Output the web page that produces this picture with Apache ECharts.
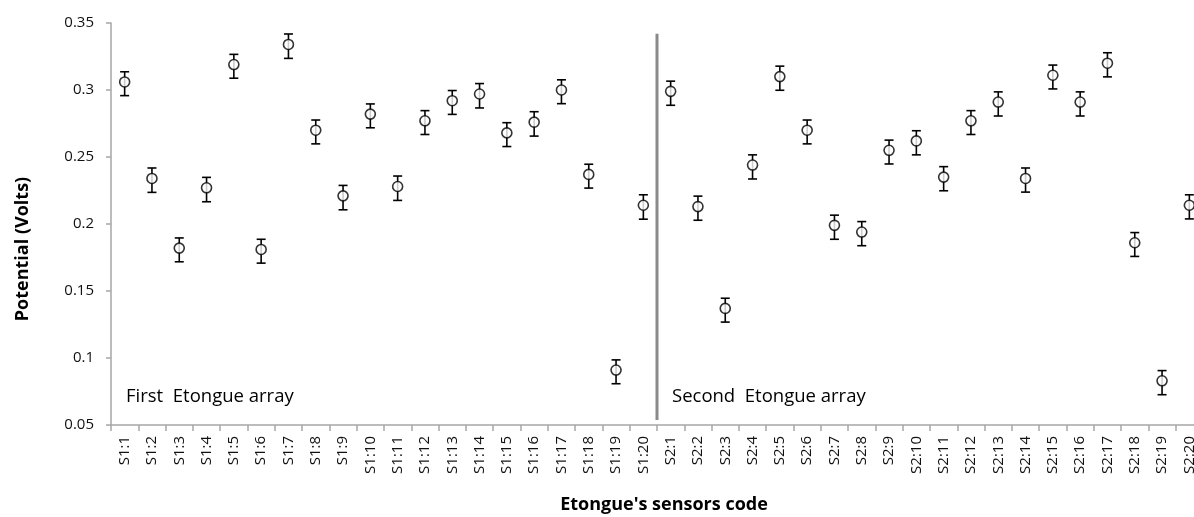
<!DOCTYPE html>
<html>
<head>
<meta charset="utf-8">
<script src="https://cdn.jsdelivr.net/npm/echarts@6/dist/echarts.min.js"></script>
<style>
  html, body { margin: 0; padding: 0; background: #fff; }
  #chart { width: 1194px; height: 517px; }
</style>
</head>
<body>
<div id="chart"></div>
<script>
const sensors = [
  'S1:1','S1:2','S1:3','S1:4','S1:5','S1:6','S1:7','S1:8','S1:9','S1:10',
  'S1:11','S1:12','S1:13','S1:14','S1:15','S1:16','S1:17','S1:18','S1:19','S1:20',
  'S2:1','S2:2','S2:3','S2:4','S2:5','S2:6','S2:7','S2:8','S2:9','S2:10',
  'S2:11','S2:12','S2:13','S2:14','S2:15','S2:16','S2:17','S2:18','S2:19','S2:20'
];

// potential
const potential = [
  0.306, 0.234, 0.182, 0.227, 0.319, 0.181, 0.334, 0.270, 0.221, 0.282,
  0.228, 0.277, 0.292, 0.297, 0.268, 0.276, 0.300, 0.237, 0.091, 0.214,
  0.299, 0.213, 0.137, 0.244, 0.310, 0.270, 0.199, 0.194, 0.255, 0.262,
  0.235, 0.277, 0.291, 0.234, 0.311, 0.291, 0.320, 0.186, 0.083, 0.214
];

// error bar extent above / below the marker
const errUp = [
  0.0076, 0.0078, 0.0076, 0.0078, 0.0076, 0.0076, 0.0078, 0.0076, 0.0078, 0.0076,
  0.0078, 0.0076, 0.0076, 0.0078, 0.0076, 0.0078, 0.0076, 0.0076, 0.0076, 0.0078,
  0.0076, 0.0078, 0.0076, 0.0076, 0.0078, 0.0076, 0.0076, 0.0078, 0.0076, 0.0076,
  0.0078, 0.0076, 0.0076, 0.0078, 0.0076, 0.0076, 0.0078, 0.0076, 0.0076, 0.0078
];
const errDown = [
  0.0102, 0.0104, 0.0102, 0.0104, 0.0102, 0.0102, 0.0104, 0.0102, 0.0104, 0.0102,
  0.0104, 0.0102, 0.0102, 0.0104, 0.0102, 0.0104, 0.0102, 0.0102, 0.0102, 0.0104,
  0.0104, 0.0102, 0.0102, 0.0104, 0.0102, 0.0102, 0.0104, 0.0102, 0.0102, 0.0104,
  0.0102, 0.0102, 0.0104, 0.0102, 0.0102, 0.0104, 0.0102, 0.0102, 0.0104, 0.0102
];

// divider between the two arrays, on a hidden 0..40 value axis
const dividerX = [20, 20];
const dividerY = [0.342, 0.0537];

const yTicks = { min: 0.05, max: 0.35, interval: 0.05 };

const font = 'Open Sans';
const axisGrey = '#a6a6a6';

const chart = echarts.init(document.getElementById('chart'));

const barData = potential.map((v, i) => [i, v, errUp[i], errDown[i]]);
const pointData = potential.map((v, i) => [i, v]);
const dividerData = dividerX.map((x, i) => [x, dividerY[i]]);

chart.setOption({
  animation: false,
  grid: {
    left: 111, top: 23, right: -9, bottom: 92,
    containLabel: false,
    outerBoundsMode: 'none'
  },
  xAxis: [{
    type: 'category',
    data: sensors,
    boundaryGap: true,
    axisLine: { lineStyle: { color: axisGrey, width: 1.5 } },
    axisTick: { show: true, length: 6, lineStyle: { color: axisGrey, width: 1.5 } },
    axisLabel: {
      rotate: 90, interval: 0, margin: 11,
      color: '#111', fontFamily: font, fontSize: 15
    },
    splitLine: { show: false },
    name: "Etongue's sensors code",
    nameLocation: 'middle',
    nameGap: 71,
    nameTextStyle: { color: '#000', fontFamily: font, fontSize: 18, fontWeight: 'bold', padding: [0, 0, 0, 14] }
  }, {
    type: 'value',
    min: 0, max: 40,
    show: false
  }],
  yAxis: {
    type: 'value',
    min: yTicks.min, max: yTicks.max, interval: yTicks.interval,
    axisLine: { show: true, lineStyle: { color: axisGrey, width: 1.5 } },
    axisTick: { show: true, length: 5, lineStyle: { color: axisGrey, width: 1.5 } },
    axisLabel: { color: '#111', fontFamily: font, fontSize: 15, margin: 17 },
    splitLine: { show: false }
  },
  graphic: [
    {
      type: 'text', x: 23, y: 249, rotation: Math.PI / 2,
      style: {
        text: 'Potential (Volts)', fill: '#000',
        font: 'bold 18px "Open Sans"', align: 'center', verticalAlign: 'middle'
      }
    },
    {
      type: 'text', x: 126, y: 397,
      style: { text: 'First  Etongue array', fill: '#000', font: '18.5px "Open Sans"', verticalAlign: 'middle' }
    },
    {
      type: 'text', x: 672, y: 397,
      style: { text: 'Second  Etongue array', fill: '#000', font: '18.5px "Open Sans"', verticalAlign: 'middle' }
    }
  ],
  series: [
    {
      type: 'line',
      xAxisIndex: 1,
      data: dividerData,
      symbol: 'none',
      lineStyle: { color: '#8a8a8a', width: 3 },
      z: 1
    },
    {
      type: 'custom',
      data: barData,
      z: 2,
      renderItem: function (params, api) {
        const i = api.value(0);
        const v = api.value(1);
        const top = api.coord([i, v + api.value(2)]);
        const bot = api.coord([i, v - api.value(3)]);
        const half = 4.5;
        const style = { stroke: '#000', lineWidth: 1.6, fill: null };
        return {
          type: 'group',
          children: [
            { type: 'line', shape: { x1: top[0], y1: top[1], x2: bot[0], y2: bot[1] }, style: style },
            { type: 'line', shape: { x1: top[0] - half, y1: top[1], x2: top[0] + half, y2: top[1] }, style: style },
            { type: 'line', shape: { x1: bot[0] - half, y1: bot[1], x2: bot[0] + half, y2: bot[1] }, style: style }
          ]
        };
      }
    },
    {
      type: 'scatter',
      data: pointData,
      symbol: 'circle',
      symbolSize: 10,
      itemStyle: { color: '#fff', borderColor: '#000', borderWidth: 1.6 },
      z: 3
    }
  ]
});
</script>
</body>
</html>
